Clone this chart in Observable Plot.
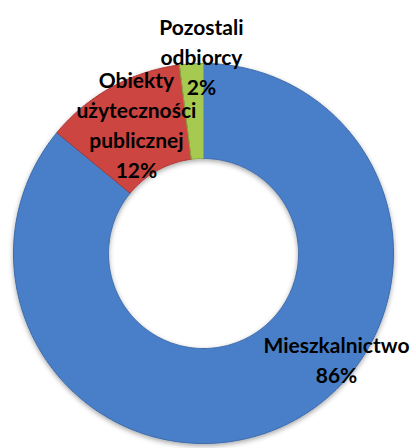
<!DOCTYPE html>
<html><head><meta charset="utf-8">
<script src="https://cdn.jsdelivr.net/npm/d3@7"></script>
<script src="https://cdn.jsdelivr.net/npm/@observablehq/plot@0.6"></script>
<style>html,body{margin:0;padding:0;background:#fff}</style>
</head><body><div id="chart"></div>
<script>
// ---- data ----
const categories = ["Mieszkalnictwo", "Obiekty użyteczności publicznej", "Pozostali odbiorcy"];
const labelLines = ["Mieszkalnictwo", "Obiekty\nużyteczności\npublicznej", "Pozostali\nodbiorcy"];
const shares = [86, 12, 2];
const percentLabels = ["86%", "12%", "2%"];

// ---- style / layout ----
const fillColors = ["#4a7fc8", "#cd4540", "#a6c950"];
const edgeColors = ["#3a68a8", "#a83632", "#86a83e"];
const innerFrac = 0.5;
// label anchors (data units of the unit circle; bottom baseline of block)
const labelPos = [[0.70, -0.684], [-0.353, 0.40], [-0.011, 0.832]];

const arcs = d3.pie().sort(null).value(d => d.value)(
  categories.map((c, i) => ({cat: c, value: shares[i], i}))
);

const rows = [];
arcs.forEach(a => {
  const n = Math.max(6, Math.ceil((a.endAngle - a.startAngle) / 0.01));
  for (let k = 0; k <= n; k++) {
    const t = a.startAngle + (a.endAngle - a.startAngle) * k / n;
    rows.push({i: a.data.i, x: Math.sin(t), y: Math.cos(t)});
  }
  for (let k = n; k >= 0; k--) {
    const t = a.startAngle + (a.endAngle - a.startAngle) * k / n;
    rows.push({i: a.data.i, x: innerFrac * Math.sin(t), y: innerFrac * Math.cos(t)});
  }
});

const labels = categories.map((c, i) => ({
  text: labelLines[i] + "\n" + percentLabels[i],
  x: labelPos[i][0], y: labelPos[i][1]
}));

const chart = Plot.plot({
  width: 416, height: 448,
  marginLeft: 13, marginRight: 23, marginTop: 63, marginBottom: 5,
  x: {domain: [-1, 1], axis: null},
  y: {domain: [-1, 1], axis: null},
  marks: [
    Plot.line(rows, {
      x: "x", y: "y", z: "i",
      curve: "linear-closed",
      fill: d => fillColors[d.i],
      stroke: d => edgeColors[d.i],
      strokeWidth: 1
    }),
    Plot.text(labels, {
      x: "x", y: "y", text: "text",
      fontSize: 21, fontWeight: "bold",
      fontFamily: "Lato, 'Open Sans', sans-serif",
      lineAnchor: "bottom", lineHeight: 30 / 21,
      fill: "#000"
    })
  ]
});

document.getElementById("chart").appendChild(chart);

// soft drop shadow like the original bevelled doughnut
const svg = d3.select(chart);
const defs = svg.insert("defs", ":first-child");
const f = defs.append("filter").attr("id", "sh").attr("x", "-10%").attr("y", "-10%").attr("width", "120%").attr("height", "125%");
f.append("feDropShadow").attr("dx", 0).attr("dy", 2).attr("stdDeviation", 2.5).attr("flood-color", "#000").attr("flood-opacity", 0.35);
svg.selectAll("g[aria-label=line]").attr("filter", "url(#sh)");
</script>
</body></html>
